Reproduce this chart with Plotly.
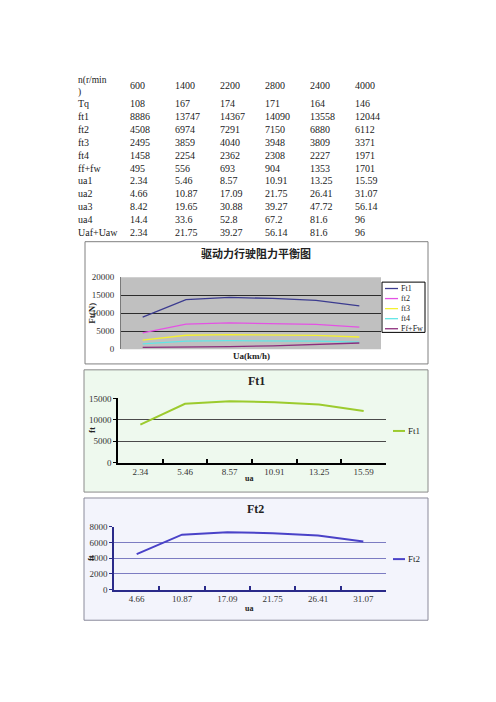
import plotly.graph_objects as go

W, H = 496, 702

# ---------------- data ----------------
row_labels = ["n(r/min)", "Tq", "ft1", "ft2", "ft3", "ft4", "ff+fw",
              "ua1", "ua2", "ua3", "ua4", "Uaf+Uaw"]
n_rpm = [600, 1400, 2200, 2800, 2400, 4000]
tq = [108, 167, 174, 171, 164, 146]
ft1 = [8886, 13747, 14367, 14090, 13558, 12044]
ft2 = [4508, 6974, 7291, 7150, 6880, 6112]
ft3 = [2495, 3859, 4040, 3948, 3809, 3371]
ft4 = [1458, 2254, 2362, 2308, 2227, 1971]
ff_fw = [495, 556, 693, 904, 1353, 1701]
ua1 = [2.34, 5.46, 8.57, 10.91, 13.25, 15.59]
ua2 = [4.66, 10.87, 17.09, 21.75, 26.41, 31.07]
ua3 = [8.42, 19.65, 30.88, 39.27, 47.72, 56.14]
ua4 = [14.4, 33.6, 52.8, 67.2, 81.6, 96]
uaf_uaw = [2.34, 21.75, 39.27, 56.14, 81.6, 96]

chart1_title = "驱动力行驶阻力平衡图"
chart1_names = ["Ft1", "ft2", "ft3", "ft4", "Ff+Fw"]
chart1_series = [ft1, ft2, ft3, ft4, ff_fw]
chart1_xtitle = "Ua(km/h)"
chart1_ytitle = "Ft(N)"
chart1_grid = [5000, 10000, 15000]

chart2_title = "Ft1"
chart3_title = "Ft2"
ua_title = "ua"
ft_title = "ft"

# ---------------- helpers ----------------
def px(x):
    return x / W

def py(y):
    return 1 - y / H

def fmt(v):
    return f"{v:g}"

SERIF = "Liberation Serif, DejaVu Serif, serif"
CJK = "Noto Sans CJK SC"
TXT = "#222222"

fig = go.Figure()

# ---------------- chart 1 ----------------
c1_colors = ["#3b3b8f", "#e452e4", "#f4f030", "#62e6e6", "#8c2e7c"]
cats1 = [fmt(v) for v in uaf_uaw]
for name, vals, col in zip(chart1_names, chart1_series, c1_colors):
    fig.add_trace(go.Scatter(x=cats1, y=vals, mode="lines", name=name,
                             line=dict(color=col, width=1.3),
                             xaxis="x", yaxis="y", showlegend=False))

# ---------------- chart 2 ----------------
c2_color = "#9ccb2e"
fig.add_trace(go.Scatter(x=[fmt(v) for v in ua1], y=ft1, mode="lines", name="Ft1",
                         line=dict(color=c2_color, width=2),
                         xaxis="x2", yaxis="y2", showlegend=False))

# ---------------- chart 3 ----------------
c3_color = "#4a42c8"
fig.add_trace(go.Scatter(x=[fmt(v) for v in ua2], y=ft2, mode="lines", name="Ft2",
                         line=dict(color=c3_color, width=2),
                         xaxis="x3", yaxis="y3", showlegend=False))

tickfont = dict(family=SERIF, size=9, color="#333333")

shapes = []
annotations = []

# frames
shapes.append(dict(type="rect", xref="paper", yref="paper", layer="below",
                   x0=px(77), x1=px(420), y0=py(356), y1=py(232),
                   fillcolor="white", line=dict(color="#808080", width=1)))
shapes.append(dict(type="rect", xref="paper", yref="paper", layer="below",
                   x0=px(76), x1=px(420), y0=py(486), y1=py(362),
                   fillcolor="#eef9ee", line=dict(color="#8a8a8a", width=1)))
shapes.append(dict(type="rect", xref="paper", yref="paper", layer="below",
                   x0=px(76), x1=px(420), y0=py(616), y1=py(492),
                   fillcolor="#f3f4fc", line=dict(color="#8a8a9a", width=1)))
# chart1 gray plot area
shapes.append(dict(type="rect", xref="x domain", yref="y domain", layer="below",
                   x0=0, x1=1, y0=0, y1=1, fillcolor="#c0c0c0",
                   line=dict(width=0)))

# ---------------- table ----------------
col_x = [120, 165, 210, 255, 300, 345]
row_y0, row_step = 92.0, 13.07
rows = [n_rpm, tq, ft1, ft2, ft3, ft4, ff_fw, ua1, ua2, ua3, ua4, uaf_uaw]
for i, (lab, vals) in enumerate(zip(row_labels, rows)):
    if i == 0:
        y = 73.3
        annotations.append(dict(text=lab[:-1] + "<br>" + lab[-1], x=px(68), y=py(74.5),
                                xref="paper", yref="paper",
                                xanchor="left", yanchor="middle", showarrow=False,
                                align="left",
                                font=dict(family=SERIF, size=9.5, color=TXT)))
    else:
        y = row_y0 + (i - 1) * row_step
        annotations.append(dict(text=lab, x=px(68), y=py(y), xref="paper", yref="paper",
                                xanchor="left", yanchor="middle", showarrow=False,
                                font=dict(family=SERIF, size=10, color=TXT)))
    for cx, v in zip(col_x, vals):
        annotations.append(dict(text=fmt(v), x=px(cx), y=py(y), xref="paper", yref="paper",
                                xanchor="left", yanchor="middle", showarrow=False,
                                font=dict(family=SERIF, size=10, color=TXT)))

# ---------------- chart titles & axis titles ----------------
annotations.append(dict(text="<b>" + chart1_title + "</b>", x=px(248), y=py(243),
                        xref="paper", yref="paper", showarrow=False,
                        xanchor="center", yanchor="middle",
                        font=dict(family=CJK, size=11, color="#222")))
annotations.append(dict(text="<b>" + chart1_xtitle + "</b>", x=px(243), y=py(347.5),
                        xref="paper", yref="paper", showarrow=False,
                        xanchor="center", yanchor="middle",
                        font=dict(family=SERIF, size=9, color="#222")))
annotations.append(dict(text="<b>" + chart1_ytitle + "</b>", x=px(84), y=py(305),
                        xref="paper", yref="paper", showarrow=False, textangle=-90,
                        xanchor="center", yanchor="middle",
                        font=dict(family=SERIF, size=9, color="#222")))

annotations.append(dict(text="<b>" + chart2_title + "</b>", x=px(248), y=py(373),
                        xref="paper", yref="paper", showarrow=False,
                        xanchor="center", yanchor="middle",
                        font=dict(family=SERIF, size=12, color="#222")))
annotations.append(dict(text="<b>" + ua_title + "</b>", x=px(241), y=py(472.5),
                        xref="paper", yref="paper", showarrow=False,
                        xanchor="center", yanchor="middle",
                        font=dict(family=SERIF, size=8, color="#222")))
annotations.append(dict(text="<b>" + ft_title + "</b>", x=px(84), y=py(423),
                        xref="paper", yref="paper", showarrow=False, textangle=-90,
                        xanchor="center", yanchor="middle",
                        font=dict(family=SERIF, size=9, color="#222")))

annotations.append(dict(text="<b>" + chart3_title + "</b>", x=px(247), y=py(503),
                        xref="paper", yref="paper", showarrow=False,
                        xanchor="center", yanchor="middle",
                        font=dict(family=SERIF, size=12, color="#222")))
annotations.append(dict(text="<b>" + ua_title + "</b>", x=px(241), y=py(604.5),
                        xref="paper", yref="paper", showarrow=False,
                        xanchor="center", yanchor="middle",
                        font=dict(family=SERIF, size=8, color="#222")))
annotations.append(dict(text="<b>" + ft_title + "</b>", x=px(83), y=py(553),
                        xref="paper", yref="paper", showarrow=False, textangle=-90,
                        xanchor="center", yanchor="middle",
                        font=dict(family=SERIF, size=9, color="#222")))

# ---------------- legends ----------------
shapes.append(dict(type="rect", xref="paper", yref="paper",
                   x0=px(374), x1=px(417), y0=py(324), y1=py(273),
                   fillcolor="white", line=dict(color="black", width=1)))
for k, (name, col) in enumerate(zip(chart1_names, c1_colors)):
    ly = 279.5 + k * 10.2
    shapes.append(dict(type="line", xref="paper", yref="paper",
                       x0=px(377), x1=px(390), y0=py(ly), y1=py(ly),
                       line=dict(color=col, width=1.3)))
    annotations.append(dict(text=name, x=px(390.5), y=py(ly), xref="paper", yref="paper",
                            xanchor="left", yanchor="middle", showarrow=False,
                            font=dict(family=SERIF, size=8, color="#222")))

for (ly, name, col) in [(424, "Ft1", c2_color), (554, "Ft2", c3_color)]:
    shapes.append(dict(type="line", xref="paper", yref="paper",
                       x0=px(385), x1=px(397), y0=py(ly), y1=py(ly),
                       line=dict(color=col, width=2)))
    annotations.append(dict(text=name, x=px(397.5), y=py(ly), xref="paper", yref="paper",
                            xanchor="left", yanchor="middle", showarrow=False,
                            font=dict(family=SERIF, size=9, color="#222")))

fig.update_layout(
    width=W, height=H, autosize=False,
    margin=dict(l=0, r=0, t=0, b=0),
    paper_bgcolor="white", plot_bgcolor="rgba(0,0,0,0)",
    showlegend=False,
    shapes=shapes, annotations=annotations,
    xaxis=dict(domain=[px(113), px(373)], anchor="y", type="category",
               range=[-0.5, 5.5], showticklabels=False, showgrid=False,
               zeroline=False, showline=False, ticks=""),
    yaxis=dict(domain=[py(341), py(268)], anchor="x", range=[0, 20000],
               tick0=0, dtick=5000, tickformat="d", showgrid=False,
               minor=dict(tickvals=chart1_grid, showgrid=True, gridcolor="#2c2c2c",
                          gridwidth=1, ticks=""),
               zeroline=False, showline=True, linecolor="#7a7a7a", linewidth=1,
               ticks="", tickfont=tickfont, ticklabelstandoff=4),
    xaxis2=dict(domain=[px(110), px(378)], anchor="y2", type="category",
                range=[-0.5, 5.5], showgrid=False, zeroline=False,
                showline=True, linecolor="black", linewidth=2,
                ticks="inside", tickson="boundaries", ticklen=4, tickwidth=1.5,
                tickcolor="black", tickfont=tickfont),
    yaxis2=dict(domain=[py(456), py(391)], anchor="x2", range=[0, 15000],
                tick0=0, dtick=5000, tickformat="d", showgrid=True, gridcolor="#4a4a4a",
                gridwidth=1, zeroline=False, showline=True, linecolor="black",
                linewidth=1.5, ticks="outside", ticklen=3, tickcolor="black",
                tickfont=tickfont),
    xaxis3=dict(domain=[px(106), px(378)], anchor="y3", type="category",
                range=[-0.5, 5.5], showgrid=False, zeroline=False,
                showline=True, linecolor="#2a2a8a", linewidth=2,
                ticks="inside", tickson="boundaries", ticklen=4, tickwidth=1.5,
                tickcolor="#2a2a8a", tickfont=tickfont),
    yaxis3=dict(domain=[py(585), py(521)], anchor="x3", range=[0, 8000],
                tick0=0, dtick=2000, tickformat="d", showgrid=True, gridcolor="#7c7cc2",
                gridwidth=1, zeroline=False, showline=True, linecolor="#2a2a8a",
                linewidth=1.5, ticks="outside", ticklen=3, tickcolor="#2a2a8a",
                tickfont=tickfont),
)

fig.write_html("out.html")
